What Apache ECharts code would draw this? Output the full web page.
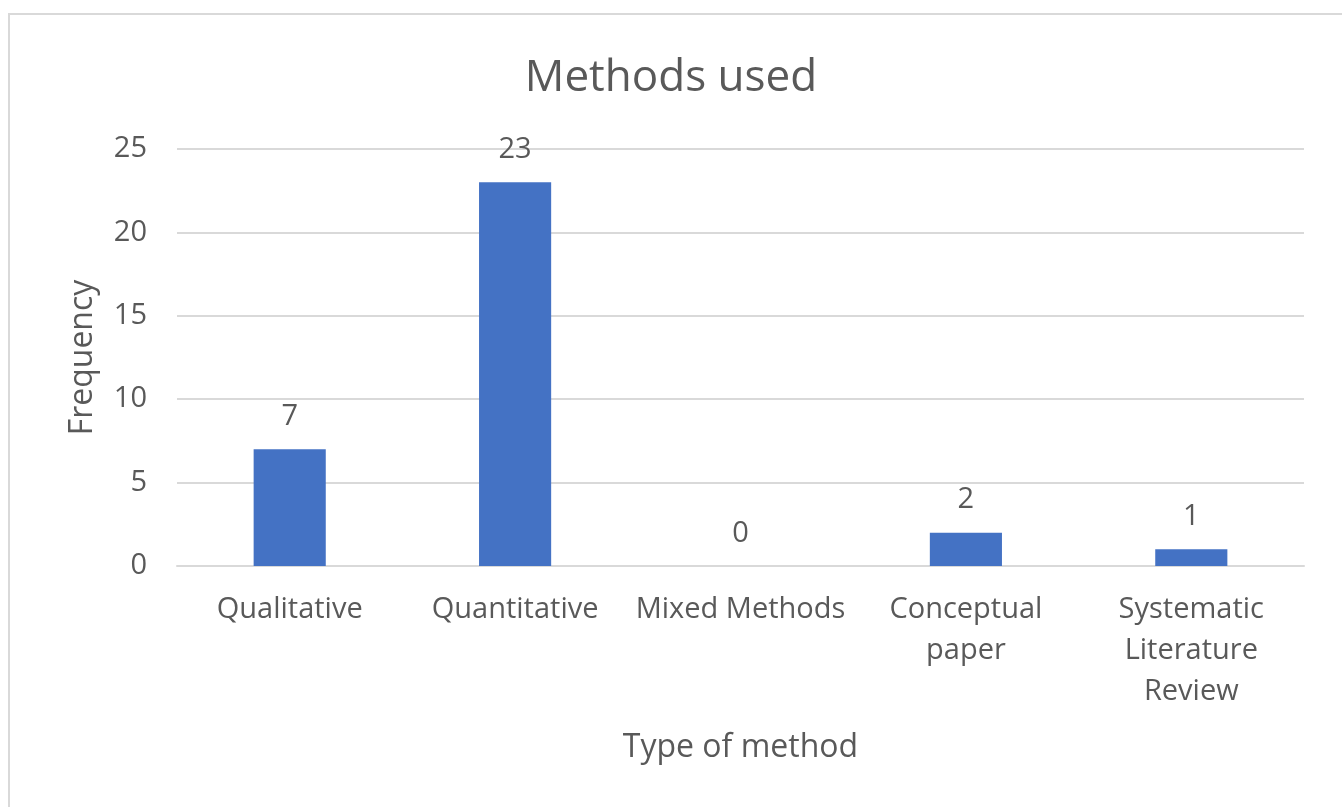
<!DOCTYPE html>
<html>
<head>
<meta charset="utf-8">
<script src="https://cdn.jsdelivr.net/npm/echarts@6/dist/echarts.min.js"></script>
<style>
  html, body { margin: 0; padding: 0; background: #fff; }
  #chart { width: 1342px; height: 807px; }
</style>
</head>
<body>
<div id="chart"></div>
<script>
const categories = ["Qualitative", "Quantitative", "Mixed Methods", "Conceptual\npaper", "Systematic\nLiterature\nReview"]
const frequency = [7, 23, 0, 2, 1]
const yTicks = [0, 5, 10, 15, 20, 25]

const textColor = "#595959"
const font = "'Open Sans', sans-serif"

const chart = echarts.init(document.getElementById("chart"))
chart.setOption({
    animation: false,
    title: {
        text: "Methods used",
        left: "center",
        top: 51,
        textStyle: { color: textColor, fontFamily: font, fontSize: 44, fontWeight: "normal" },
    },
    graphic: [
        {
            type: "rect",
            shape: { x: 9, y: 14, width: 1400, height: 900 },
            style: { fill: "none", stroke: "#d9d9d9", lineWidth: 2 },
            silent: true,
        },
    ],
    grid: { left: 177, right: 38, top: 149, bottom: 241 },
    xAxis: {
        type: "category",
        data: categories,
        name: "Type of method",
        nameLocation: "middle",
        nameGap: 166,
        nameTextStyle: { color: textColor, fontFamily: font, fontSize: 32 },
        axisLine: { lineStyle: { color: "#d9d9d9", width: 2 } },
        axisTick: { show: false },
        axisLabel: {
            color: textColor,
            fontFamily: font,
            fontSize: 29,
            lineHeight: 41,
            margin: 23,
            interval: 0,
        },
    },
    yAxis: {
        type: "value",
        min: yTicks[0],
        max: yTicks[yTicks.length - 1],
        interval: 5,
        name: "Frequency",
        nameLocation: "middle",
        nameGap: 78,
        nameTextStyle: { color: textColor, fontFamily: font, fontSize: 32 },
        axisLine: { show: false },
        axisTick: { show: false },
        axisLabel: { color: textColor, fontFamily: font, fontSize: 29, margin: 30 },
        splitLine: { lineStyle: { color: "#d9d9d9", width: 2 } },
    },
    series: [
        {
            type: "bar",
            data: frequency,
            barWidth: "32%",
            itemStyle: { color: "#4472c4" },
            label: {
                show: true,
                position: "top",
                distance: 18,
                color: textColor,
                fontFamily: font,
                fontSize: 29,
            },
        },
    ],
})
</script>
</body>
</html>
